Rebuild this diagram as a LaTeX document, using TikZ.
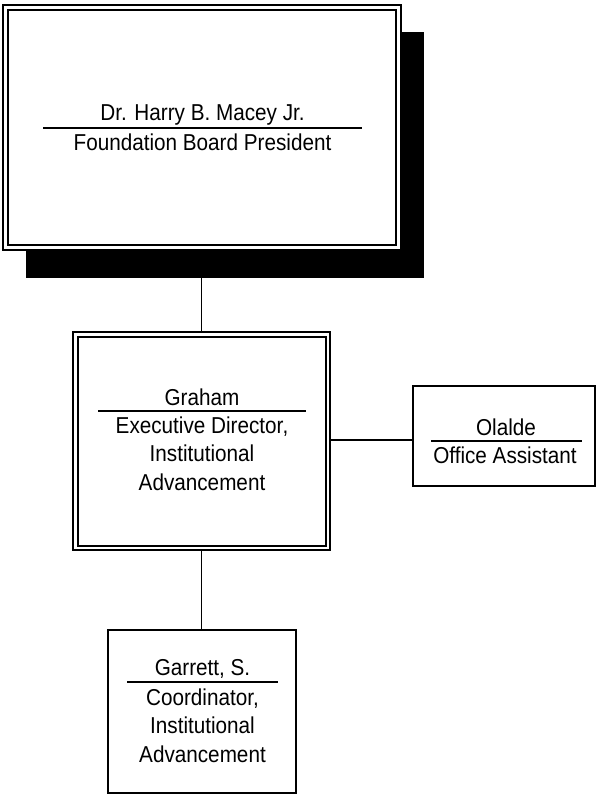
\documentclass[tikz,border=0pt]{standalone}
\usepackage{fontspec}
\setmainfont[FakeStretch=0.9]{Liberation Sans}
\begin{document}
\begin{tikzpicture}[x=1pt,y=-1pt,
  outerbox/.style={draw, fill=white, line width=1.3pt, inner sep=0pt, outer sep=0pt},
  singlebox/.style={draw, fill=white, line width=1.8pt, inner sep=0pt, outer sep=0pt},
  innerline/.style={line width=2pt},
  txt/.style={anchor=base, inner sep=0pt, font=\fontsize{23}{27}\selectfont},
  rulel/.style={line width=1.6pt},
  conn/.style={line width=1.3pt}]
\useasboundingbox (0,0) rectangle (600,796);
\fill[white] (0,0) rectangle (600,796);
% shadow of top box
\fill[black] (26,32) rectangle (424,278);
% top box
\node[outerbox, minimum width=398pt, minimum height=245pt] (top) at (202,127.5) {};
\draw[innerline] (8,10) rectangle (396,245);
\node[txt] (topname) at (202.5,120.5) {Dr. Harry B. Macey Jr.};
\draw[rulel] (43,128) -- (362,128);
\node[txt] (toptitle) at (202.5,150) {Foundation Board President};
% middle box
\node[outerbox, minimum width=257pt, minimum height=218pt] (mid) at (201.5,441) {};
\draw[innerline] (78,337) rectangle (325.5,545.5);
\node[txt] (midname) at (202,405) {Graham};
\draw[rulel] (98,411) -- (306,411);
\node[txt] (midt1) at (202,433) {Executive Director,};
\node[txt] (midt2) at (202,461.5) {Institutional};
\node[txt] (midt3) at (202,490) {Advancement};
% right box
\node[singlebox, minimum width=182pt, minimum height=100pt] (right) at (504,436) {};
\node[txt] (rightname) at (506,435) {Olalde};
\draw[rulel] (431,441) -- (582,441);
\node[txt] (righttitle) at (505,463) {Office Assistant};
% bottom box
\node[singlebox, minimum width=188pt, minimum height=163pt] (bot) at (202,711.5) {};
\node[txt] (botname) at (202.5,675) {Garrett, S.};
\draw[rulel] (127,682) -- (278,682);
\node[txt] (bott1) at (202.5,705) {Coordinator,};
\node[txt] (bott2) at (202.5,733) {Institutional};
\node[txt] (bott3) at (202.5,762) {Advancement};
% connectors
\draw[conn] (top.south -| mid.north) -- (mid.north);
\draw[conn] (mid.east |- 0,440) -- (right.west |- 0,440);
\draw[conn] (mid.south) -- (mid.south |- bot.north);
\end{tikzpicture}
\end{document}
